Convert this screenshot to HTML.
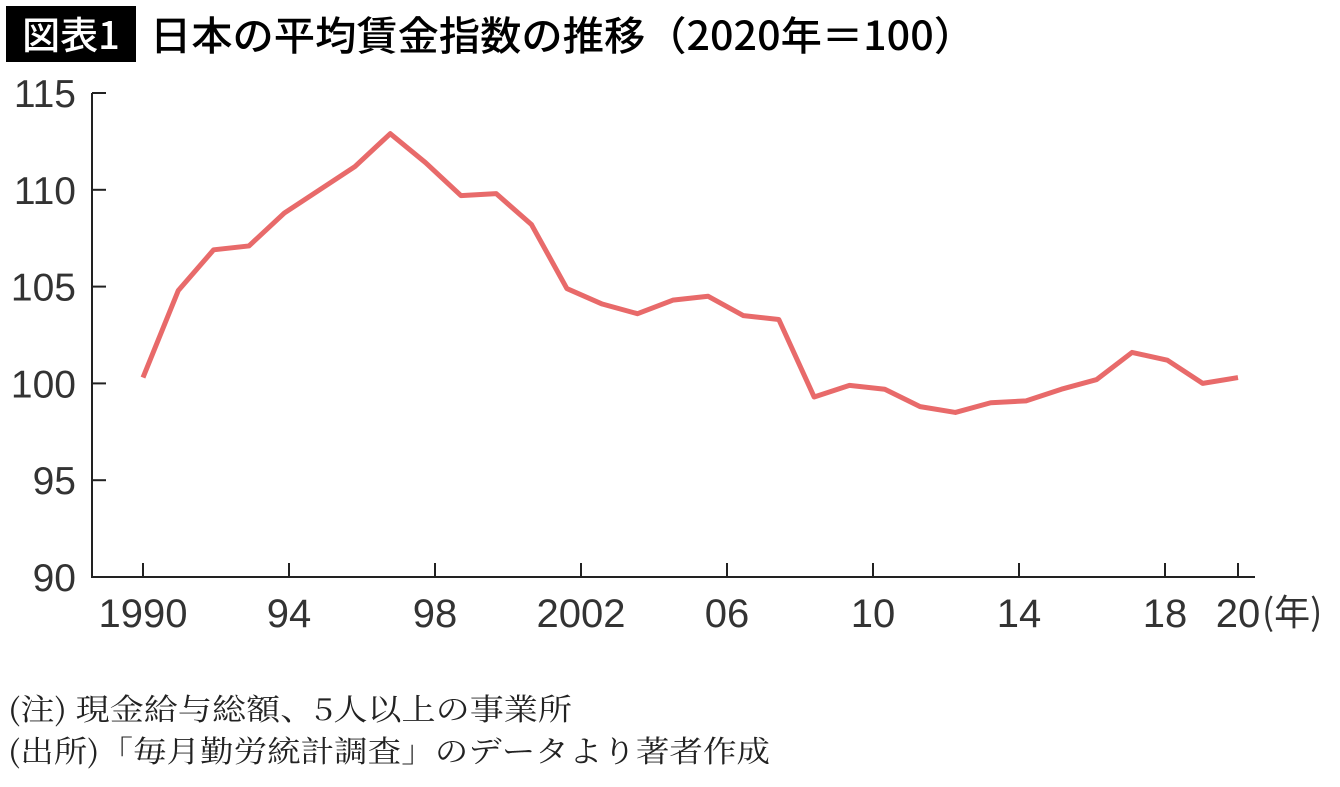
<!DOCTYPE html>
<html><head><meta charset="utf-8"><style>
body{margin:0;background:#fff;width:1340px;height:782px;overflow:hidden;font-family:"Liberation Sans","Noto Sans CJK JP",sans-serif}
</style></head><body>
<svg width="1340" height="782">
<rect x="6" y="6" width="130" height="56" fill="#000"/>
<text x="71" y="49" fill="#fff" font-size="38" font-weight="500" text-anchor="middle" font-family="Noto Sans CJK JP, sans-serif">図表1</text>
<text x="150" y="50" fill="#000" font-size="40" font-weight="500" textLength="825" lengthAdjust="spacingAndGlyphs" font-family="Noto Sans CJK JP, sans-serif">日本の平均賃金指数の推移（2020年＝100）</text>
<g id="axes"></g>
<path id="line" fill="none" stroke="#e86a6a" stroke-width="5" stroke-linejoin="round"/>
<text x="8" y="720" font-size="30" textLength="564" lengthAdjust="spacingAndGlyphs" fill="#222" font-family="Noto Serif CJK SC, serif">(注) 現金給与総額、5人以上の事業所</text>
<text x="8" y="762" font-size="30" textLength="762" lengthAdjust="spacingAndGlyphs" fill="#222" font-family="Noto Serif CJK SC, serif">(出所)「毎月勤労統計調査」のデータより著者作成</text>
</svg>
<script>
const values=[100.3,104.8,106.9,107.1,108.8,110.0,111.2,112.9,111.4,109.7,109.8,108.2,104.9,104.1,103.6,104.3,104.5,103.5,103.3,99.3,99.9,99.7,98.8,98.5,99.0,99.1,99.7,100.2,101.6,101.2,100.0,100.3];
const yTicks=[90,95,100,105,110,115];
const xTickYears=[1990,1994,1998,2002,2006,2010,2014,2018,2020];
const xTickLabels=["1990","94","98","2002","06","10","14","18","20"];
const y=v=>577-(v-90)*(484/25);
const xi=i=>143+i*(1238-143)/(values.length-1);
const xy=yr=>143+(yr-1990)*(1238-143)/30;
const ns="http://www.w3.org/2000/svg",g=document.getElementById('axes');
function mk(t,a){const e=document.createElementNS(ns,t);for(const k in a)e.setAttribute(k,a[k]);g.appendChild(e);return e;}
let e=mk('path',{d:'M92 93 V577 H1255',stroke:'#222','stroke-width':2,fill:'none'});


yTicks.forEach(v=>{
 let t=mk('line',{x1:92,x2:106,y1:y(v),y2:y(v),stroke:'#222','stroke-width':2});
 
 
 let l=mk('text',{x:76,y:y(v)+14,'font-size':39,'text-anchor':'end',fill:'#333'});
 l.textContent=v;
 
 
});
xTickYears.forEach((yr,i)=>{
 let t=mk('line',{x1:xy(yr),x2:xy(yr),y1:577,y2:563,stroke:'#222','stroke-width':2});
 
 
 let l=mk('text',{x:xy(yr),y:627,'font-size':40,'text-anchor':'middle',fill:'#333'});
 l.textContent=xTickLabels[i];
 
 
});
let u=mk('text',{x:1262,y:625,'font-size':36,fill:'#333','font-family':'Noto Sans CJK JP, sans-serif'});
u.textContent='(年)';


document.getElementById('line').setAttribute('d',values.map((v,i)=>(i?'L':'M')+xi(i)+' '+y(v)).join(' '));
</script>
</body></html>
